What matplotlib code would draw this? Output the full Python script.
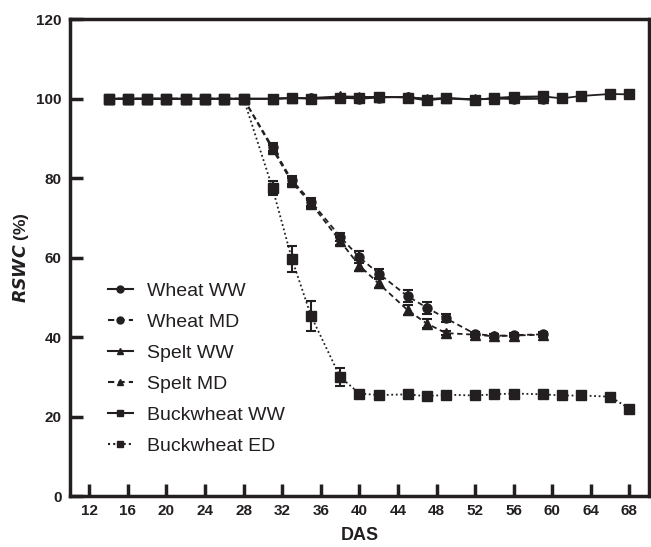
import matplotlib
matplotlib.use("Agg")
import matplotlib.pyplot as plt
from matplotlib.lines import Line2D

plt.rcParams['font.family'] = ['Liberation Sans', 'DejaVu Sans']

das_early = [14, 16, 18, 20, 22, 24, 26, 28]
das_wheat = das_early + [31, 33, 35, 38, 40, 42, 45, 47, 49, 52, 54, 56, 59]
das_buck = das_wheat + [61, 63, 66, 68]

wheat_ww = [100]*8 + [100.0, 100.2, 100.1, 100.3, 100.0, 100.3, 100.5, 99.8, 100.2, 99.8, 100.1, 99.9, 100.0]
spelt_ww = [100]*8 + [100.0, 100.1, 100.2, 100.6, 100.5, 100.4, 100.4, 100.0, 100.1, 99.9, 100.0, 100.3, 100.1]
buck_ww = [100]*8 + [100.0, 100.2, 100.0, 100.1, 100.3, 100.5, 100.3, 99.6, 100.1, 99.7, 100.2, 100.5, 100.6,
                     100.1, 100.7, 101.2, 101.1]

wheat_md = [100]*8 + [87.8, 79.5, 74.1, 65.3, 60.1, 56.0, 50.3, 47.4, 44.7, 40.8, 40.3, 40.5, 40.7]
wheat_md_err = [0]*8 + [1.0, 1.0, 1.0, 1.0, 1.5, 1.2, 1.5, 1.5, 1.0, 0.5, 0.5, 0.5, 0.5]
spelt_md = [100]*8 + [87.3, 79.0, 73.6, 64.2, 58.0, 53.5, 46.8, 43.4, 41.0, 40.6, 40.2, 40.4, 40.6]
spelt_md_err = [0]*8 + [1.0, 1.0, 1.0, 1.0, 1.3, 1.2, 1.2, 1.2, 0.5, 0.5, 0.5, 0.5, 0.5]
buck_ed = [100]*8 + [77.5, 59.7, 45.3, 30.0, 25.8, 25.4, 25.6, 25.1, 25.5, 25.3, 25.6, 25.8, 25.6,
                     25.3, 25.3, 25.0, 22.0]
buck_ed_err = [0]*8 + [1.7, 3.2, 3.7, 2.2, 0.5, 0.5, 0.5, 0.5, 0.5, 0.5, 0.5, 0.5, 0.5, 0.5, 0.5, 0.5, 0.5]

labels = ['Wheat WW', 'Wheat MD', 'Spelt WW', 'Spelt MD', 'Buckwheat WW', 'Buckwheat ED']
x_ticks = list(range(12, 69, 4))
y_ticks = list(range(0, 121, 20))

fig = plt.figure(figsize=(6.51, 5.47), dpi=100)
ax = fig.add_axes([70/651, 51/547, (648.7-70)/651, (496-19.3)/547])

lc = '#231f20'
ms = 6.5
dash = (0, (3, 2))
dot = (0, (1, 1.5))
common = dict(color=lc, mfc=lc, mec=lc, lw=1.3)
eb = dict(ecolor=lc, elinewidth=1.5, capsize=3.5, capthick=1.5)

ax.plot(das_wheat, wheat_ww, ls='-', marker='o', ms=ms, **common)
ax.errorbar(das_wheat, wheat_md, yerr=wheat_md_err, ls=dash, marker='o', ms=ms, **common, **eb)
ax.plot(das_wheat, spelt_ww, ls='-', marker='^', ms=ms, **common)
ax.errorbar(das_wheat, spelt_md, yerr=spelt_md_err, ls=dash, marker='^', ms=ms, **common, **eb)
ax.plot(das_buck, buck_ww, ls='-', marker='s', ms=ms, **common)
ax.errorbar(das_buck, buck_ed, yerr=buck_ed_err, ls=dot, marker='s', ms=ms, **common, **eb)

ax.set_xlim(10, 70)
ax.set_ylim(0, 120)
ax.set_xticks(x_ticks)
ax.set_yticks(y_ticks)
for s in ax.spines.values():
    s.set_linewidth(2.5)
    s.set_color(lc)
ax.tick_params(direction='in', length=9, width=2.5, color=lc, labelsize=11, pad=6)
for lab in ax.get_xticklabels() + ax.get_yticklabels():
    lab.set_fontweight('bold')
    lab.set_color(lc)

ax.set_xlabel('DAS', fontsize=13, fontweight='bold', color=lc, labelpad=6)
ax.set_ylabel(r'$\mathbfit{RSWC}$ (%)', fontsize=12.5, fontweight='bold', color=lc, labelpad=4)

styles = ['-', dash, '-', dash, '-', dot]
mk = ['o', 'o', '^', '^', 's', 's']
hs = [Line2D([0], [0], ls=st, marker=m, color=lc, mfc=lc, mec=lc, ms=5, lw=1.5) for st, m in zip(styles, mk)]
leg = ax.legend(hs, labels, loc='upper left', bbox_to_anchor=(0.035, 0.485), frameon=False,
                fontsize=14, handlelength=1.3, labelspacing=0.69, handletextpad=0.74)
for t in leg.get_texts():
    t.set_color(lc)

fig.savefig('out.png', dpi=100)
